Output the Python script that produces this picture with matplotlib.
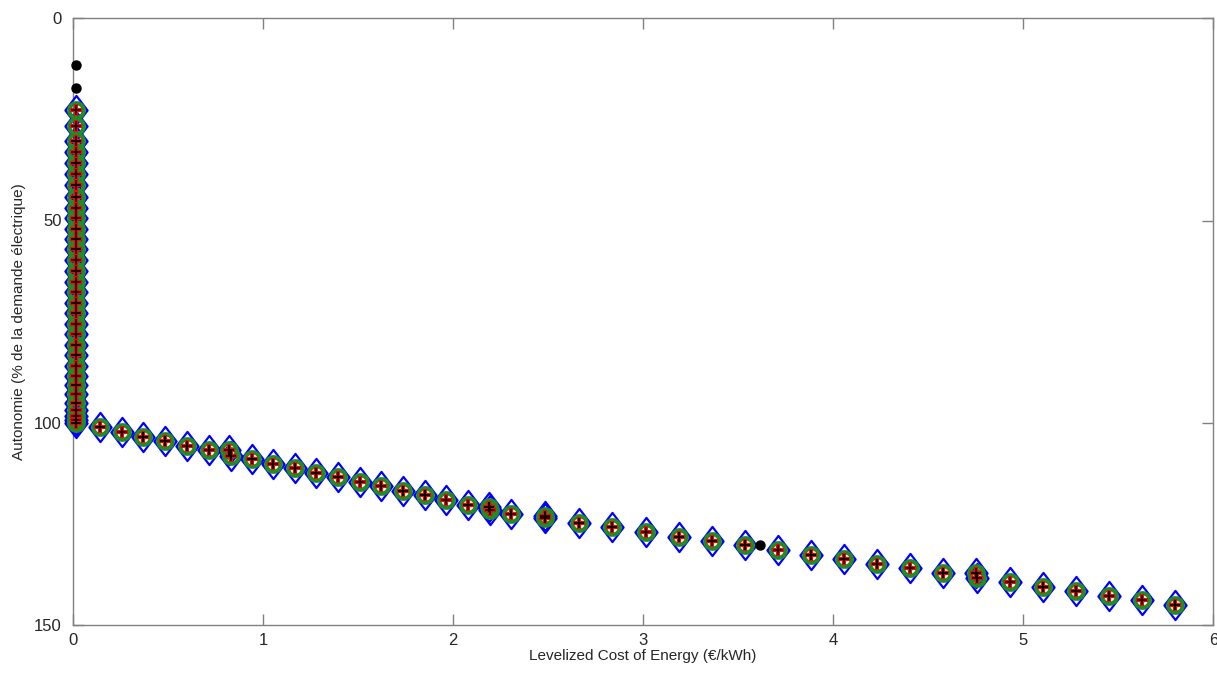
import numpy as np
import matplotlib
matplotlib.use('Agg')
import matplotlib.pyplot as plt
from matplotlib.path import Path

plt.rcParams['font.family'] = ['Liberation Sans', 'DejaVu Sans']

# vertical column of solutions (LCOE ~ 0)
col_x = [0.014] * 32
col_y = [22.6, 26.5, 30.2, 33.0, 35.7, 38.4, 41.3, 44.2, 46.9, 49.5, 52.0, 54.6,
         57.1, 59.8, 62.4, 65.1, 67.6, 70.3, 73.0, 75.6, 78.1, 80.8, 83.3, 85.9,
         88.4, 90.8, 93.0, 95.1, 96.9, 98.4, 99.4, 100.0]

# diagonal branch
diag_x = [0.144, 0.256, 0.370, 0.486, 0.598, 0.714, 0.822, 0.830, 0.941, 1.054,
          1.167, 1.281, 1.395, 1.509, 1.623, 1.737, 1.851, 1.965, 2.079, 2.190,
          2.196, 2.307, 2.483, 2.486, 2.663, 2.837, 3.013, 3.188, 3.363, 3.534,
          3.711, 3.881, 4.056, 4.232, 4.404, 4.579, 4.752, 4.757, 4.930, 5.102,
          5.277, 5.453, 5.625, 5.800]
diag_y = [101.2, 102.4, 103.5, 104.6, 105.8, 106.9, 106.8, 108.3, 109.1, 110.3,
          111.3, 112.4, 113.6, 114.7, 115.8, 116.9, 118.0, 119.2, 120.3, 120.8,
          121.7, 122.6, 123.1, 123.7, 124.8, 125.9, 127.1, 128.3, 129.3, 130.4,
          131.6, 132.7, 133.9, 135.0, 136.1, 137.2, 137.2, 138.4, 139.5, 140.6,
          141.7, 142.9, 144.0, 145.1]

# isolated black points
dot_x = [0.014, 0.014, 3.614]
dot_y = [11.5, 17.2, 130.4]

x = np.array(col_x + diag_x)
y = np.array(col_y + diag_y)

diamond = Path([(0, 1), (0.76, 0), (0, -1), (-0.76, 0), (0, 1)],
               [Path.MOVETO, Path.LINETO, Path.LINETO, Path.LINETO, Path.CLOSEPOLY])

fig = plt.figure(figsize=(12.17, 6.75), dpi=100)
ax = fig.add_axes([0.0600, 0.0748, 0.9370, 0.8978])

kw = dict(ls='none', clip_on=False)
ax.plot(x, y, marker=diamond, ms=21, mfc='none', mec='#0000ff', mew=1.6, **kw)
ax.plot(x, y, marker='o', ms=10.5, mfc='none', mec='#228b22', mew=3.0, **kw)
ax.plot(x, y, marker='+', ms=8, mec='#ff0000', mew=3.0, **kw)
ax.plot(x, y, marker='+', ms=6.5, mec='black', mew=1.3, **kw)
ax.plot(dot_x, dot_y, marker='o', ms=6.5, mfc='black', mec='black', **kw)

ax.set_xlim(0, 6)
ax.set_ylim(150, 0)
ax.set_xticks([0, 1, 2, 3, 4, 5, 6])
ax.set_yticks([0, 50, 100, 150])

for s in ax.spines.values():
    s.set_color('#808080')
    s.set_linewidth(1.0)
    s.set_zorder(0)
ax.tick_params(direction='in', length=8, width=1.0, color='#808080',
               top=True, right=True, labelsize=12, labelcolor='#262626', pad=6)
ax.tick_params(axis='y', pad=8)

ax.set_xlabel('Levelized Cost of Energy (€/kWh)', fontsize=11, color='#262626', labelpad=1)
ax.set_ylabel('Autonomie (% de la demande électrique)', fontsize=11, color='#262626', labelpad=6)

fig.savefig('out.png', dpi=100)
